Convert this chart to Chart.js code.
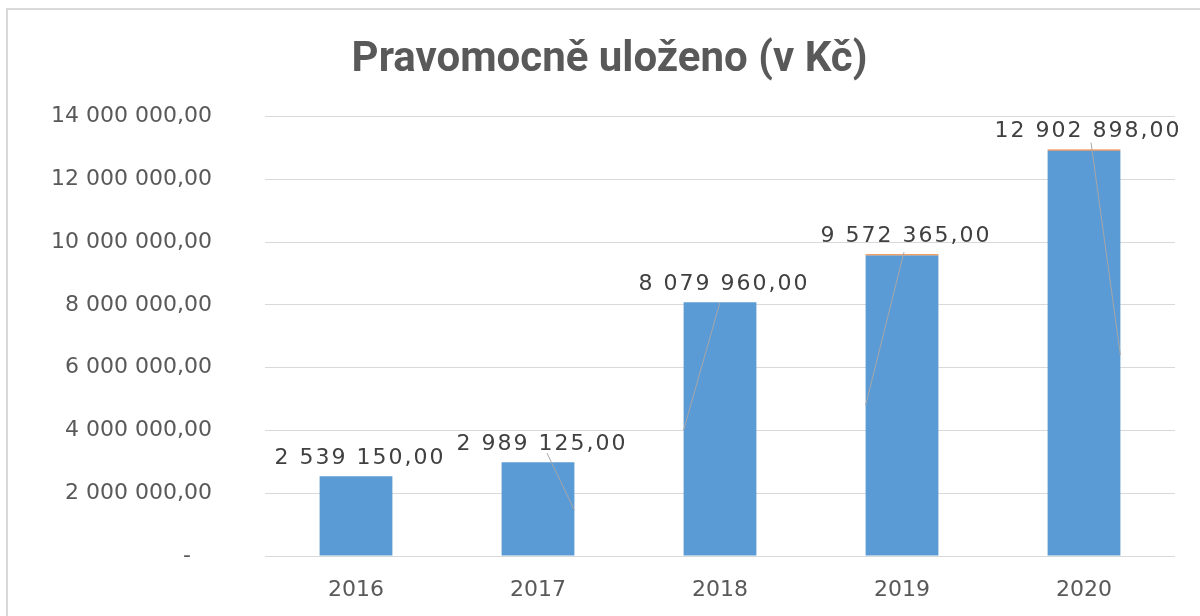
<!DOCTYPE html>
<html>
<head>
<meta charset="utf-8">
<script src="https://cdn.jsdelivr.net/npm/chart.js@4.4.1/dist/chart.umd.min.js"></script>
<style>
  html, body { margin: 0; padding: 0; background: #fff; }
  #wrap { position: relative; width: 1200px; height: 616px; overflow: hidden; }
  #frame { position: absolute; left: 6px; top: 8px; width: 1300px; height: 700px; border: 2px solid #d9d9d9; box-sizing: border-box; }
  canvas { position: absolute; left: 0; top: 0; width: 1200px; height: 616px; }
</style>
</head>
<body>
<div id="wrap">
  <div id="frame"></div>
  <canvas id="chart" width="1200" height="616"></canvas>
</div>
<script>
const years = ['2016', '2017', '2018', '2019', '2020'];
const amounts = [2539150, 2989125, 8079960, 9572365, 12902898];
// tiny orange series sitting on top of the last two bars
const extra = [0, 0, 0, 40000, 40000];
const yTicks = [0, 2000000, 4000000, 6000000, 8000000, 10000000, 12000000, 14000000];
// excel leader lines: lower end value and which bar edge it hits
const leaderEnd = [null, 1460000, 4010000, 4800000, 6400000];
const leaderSide = [0, 1, -1, -1, 1];

function czk(v) {
  if (v === 0) return '-   ';
  const parts = Math.round(v).toString().replace(/\B(?=(\d{3})+(?!\d))/g, ' ');
  return parts + ',00';
}

const spacing = {
  id: 'spacing',
  beforeInit(chart) { chart.ctx.letterSpacing = '2px'; }
};

const labels = {
  id: 'labels',
  afterDatasetsDraw(chart) {
    const ctx = chart.ctx;
    const y = chart.scales.y;
    const bars = chart.getDatasetMeta(0).data;
    const topShift = [0, 9, 0, 2, 7];
    ctx.save();
    // leader lines
    ctx.strokeStyle = '#a6a6a6';
    ctx.lineWidth = 1;
    bars.forEach((b, i) => {
      if (leaderEnd[i] == null) return;
      const half = b.width / 2;
      ctx.beginPath();
      ctx.moveTo(b.x + topShift[i], y.getPixelForValue(amounts[i] + extra[i]) - topShift[i]);
      ctx.lineTo(b.x + half * leaderSide[i], y.getPixelForValue(leaderEnd[i]));
      ctx.stroke();
    });
    ctx.letterSpacing = '2px';
    ctx.font = '22px "DejaVu Sans"';
    ctx.fillStyle = '#404040';
    ctx.textAlign = 'center';
    ctx.textBaseline = 'middle';
    bars.forEach((b, i) => {
      const top = y.getPixelForValue(amounts[i] + extra[i]);
      ctx.fillText(czk(amounts[i]), b.x + 4, top - 18);
    });
    ctx.restore();
  }
};

new Chart(document.getElementById('chart'), {
  type: 'bar',
  data: {
    labels: years,
    datasets: [
      { data: amounts, backgroundColor: '#5b9bd5', stack: 's', barPercentage: 0.4, categoryPercentage: 1 },
      { data: extra, backgroundColor: '#ed7d31', stack: 's', barPercentage: 0.4, categoryPercentage: 1 }
    ]
  },
  options: {
    responsive: false,
    maintainAspectRatio: false,
    animation: false,
    layout: { padding: { left: 44, right: 25, top: 0, bottom: 0 } },
    plugins: {
      legend: { display: false },
      tooltip: { enabled: false },
      title: {
        display: true,
        text: 'Pravomocně uloženo (v Kč)',
        color: '#595959',
        font: { family: 'Roboto', size: 42, weight: 'bold' },
        padding: { top: 35, bottom: 31 }
      }
    },
    scales: {
      x: {
        stacked: true,
        afterFit(scale) { scale.height = 60; },
        grid: { display: false },
        border: { display: false },
        ticks: { color: '#595959', font: { family: 'DejaVu Sans', size: 22 }, padding: 13 }
      },
      y: {
        stacked: true,
        min: 0,
        max: 14000000,
        afterFit(scale) {
          scale.width = 221;
          // tick padding would otherwise be added above and below the plot
          scale.paddingTop = 13;
          scale.paddingBottom = 13;
        },
        afterBuildTicks(scale) { scale.ticks = yTicks.map(v => ({ value: v })); },
        grid: { color: '#d9d9d9', drawTicks: false },
        border: { display: false },
        ticks: {
          color: '#595959',
          font: { family: 'DejaVu Sans', size: 22 },
          padding: 53,
          callback: v => czk(v)
        }
      }
    }
  },
  plugins: [spacing, labels]
});
</script>
</body>
</html>
